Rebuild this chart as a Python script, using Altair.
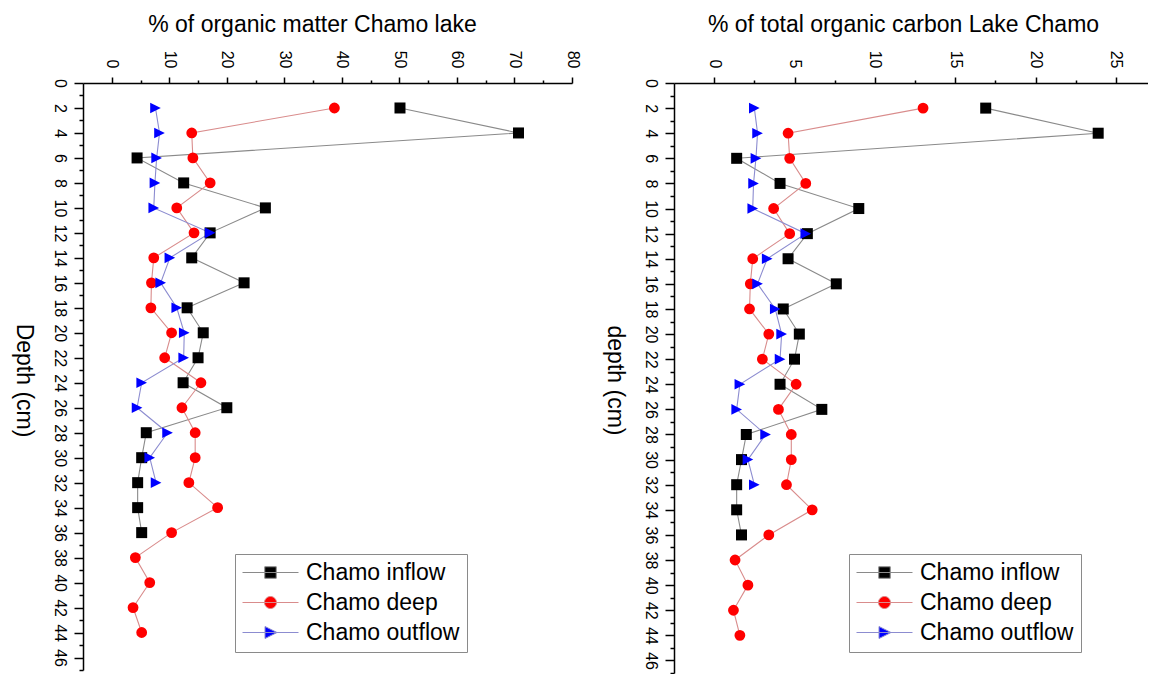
import altair as alt
import pandas as pd

# ---------------- data ----------------
SERIES = ["Chamo inflow", "Chamo deep", "Chamo outflow"]

depth_inflow = [2, 4, 6, 8, 10, 12, 14, 16, 18, 20, 22, 24, 26, 28, 30, 32, 34, 36]
depth_deep = [2, 4, 6, 8, 10, 12, 14, 16, 18, 20, 22, 24, 26, 28, 30, 32, 34, 36, 38, 40, 42, 44]
depth_outflow = [2, 4, 6, 8, 10, 12, 14, 16, 18, 20, 22, 24, 26, 28, 30, 32]

# % organic matter (left panel)
om_inflow = [50.1, 70.7, 4.4, 12.5, 26.7, 17.1, 13.9, 23.0, 13.1, 15.9, 15.0, 12.4, 20.0, 6.0, 5.2, 4.5, 4.5, 5.2]
om_deep = [38.7, 13.9, 14.1, 17.1, 11.3, 14.3, 7.3, 6.9, 6.8, 10.4, 9.2, 15.5, 12.2, 14.5, 14.5, 13.4, 18.4, 10.4, 4.1, 6.6, 3.7, 5.2]
om_outflow = [7.6, 8.3, 7.8, 7.5, 7.3, 17.1, 10.1, 8.5, 11.3, 12.6, 12.5, 5.2, 4.4, 9.7, 6.6, 7.7]

# % total organic carbon (right panel)
toc_inflow = [16.9, 23.9, 1.4, 4.1, 9.0, 5.8, 4.6, 7.6, 4.3, 5.3, 5.0, 4.1, 6.7, 2.0, 1.7, 1.4, 1.4, 1.7]
toc_deep = [13.0, 4.6, 4.7, 5.7, 3.7, 4.7, 2.4, 2.25, 2.2, 3.4, 3.0, 5.1, 4.0, 4.8, 4.8, 4.5, 6.1, 3.4, 1.3, 2.1, 1.2, 1.6]
toc_outflow = [2.5, 2.7, 2.6, 2.45, 2.4, 5.7, 3.3, 2.7, 3.8, 4.2, 4.1, 1.6, 1.4, 3.2, 2.1, 2.5]

# tick values
om_ticks = [0, 5, 10, 15, 20, 25, 30, 35, 40, 45, 50, 55, 60, 65, 70, 75, 80]
toc_ticks = [0, 2.5, 5, 7.5, 10, 12.5, 15, 17.5, 20, 22.5, 25]
depth_ticks = list(range(0, 48))

# ---------------- styling ----------------
FONT = "Liberation Sans"
marker_colors = ["#000000", "#ff0000", "#0000ff"]
line_colors = ["#8a8a8a", "#d98c8c", "#8c8cd0"]
marker_shapes = ["square", "circle", "M-1,-1L1,0L-1,1Z"]
marker_sizes = [121, 113, 169]
legend_shapes = [
    "M-5.6,0H5.6M-1.15,-1.15H1.15V1.15H-1.15Z",
    "M-5.6,0H5.6M-1.2,0A1.2,1.2 0 1,0 1.2,0A1.2,1.2 0 1,0 -1.2,0Z",
    "M-5.6,0H5.6M-1.1,-1.2L1.3,0L-1.1,1.2Z",
]


def long_df(inflow, deep, outflow):
    rows = []
    for name, depths, vals in [
        (SERIES[0], depth_inflow, inflow),
        (SERIES[1], depth_deep, deep),
        (SERIES[2], depth_outflow, outflow),
    ]:
        for d, v in zip(depths, vals):
            rows.append({"series": name, "depth": d, "value": v})
    return pd.DataFrame(rows)


def panel(df, xdomain, xticks, major, width, height, xtitle, ytitle, lx, ly):
    x_axis = alt.Axis(
        orient="top", values=xticks, grid=False,
        labelExpr=f"datum.value % {major} == 0 ? datum.label : ''",
        labelAngle=90, labelAlign="right", labelBaseline="middle",
        labelPadding=9, labelFontSize=16, labelFlush=False, labelOverlap=False,
        labelColor="black", labelFont=FONT,
        tickSize={"condition": {"test": f"datum.value % {major} != 0", "value": 3}, "value": 6},
        tickColor="black", tickWidth=1.5, domainColor="black", domainWidth=1.5,
        title=xtitle, titleFontSize=23, titleFontWeight="normal", titleFont=FONT,
        titleColor="black", titleX=229, titleY=-52, titleAlign="center",
        titleBaseline="alphabetic", titleAngle=0,
    )
    y_axis = alt.Axis(
        orient="left", values=depth_ticks, grid=False,
        labelExpr="datum.value % 2 == 0 ? datum.label : ''",
        labelAngle=90, labelAlign="center", labelBaseline="top",
        labelPadding=7, labelFontSize=16, labelFlush=False, labelOverlap=False,
        labelColor="black", labelFont=FONT,
        tickSize={"condition": {"test": "datum.value % 2 != 0", "value": 4}, "value": 9},
        tickColor="black", tickWidth=1.5, domainColor="black", domainWidth=1.5,
        title=ytitle, titleFontSize=23, titleFontWeight="normal", titleFont=FONT,
        titleColor="black", titleX=-60, titleY=297, titleAlign="center",
        titleBaseline="middle", titleAngle=90,
    )
    base = alt.Chart(df).encode(
        x=alt.X("value:Q", scale=alt.Scale(domain=xdomain, nice=False, zero=False), axis=x_axis),
        y=alt.Y("depth:Q", scale=alt.Scale(domain=[0, 47], nice=False, zero=False, reverse=True), axis=y_axis),
    )
    lines = base.mark_line(strokeWidth=1.1, opacity=1).encode(
        color=alt.Color("series:N", scale=alt.Scale(domain=SERIES, range=line_colors), legend=None),
        order=alt.Order("depth:Q"),
    )
    points = base.mark_point(filled=True, opacity=1, strokeWidth=0).encode(
        shape=alt.Shape("series:N", scale=alt.Scale(domain=SERIES, range=marker_shapes), legend=None),
        fill=alt.Fill("series:N", scale=alt.Scale(domain=SERIES, range=marker_colors), legend=None),
        size=alt.Size("series:N", scale=alt.Scale(domain=SERIES, range=marker_sizes), legend=None),
    )
    leg = alt.Legend(
        title=None, orient="none", legendX=lx, legendY=ly, padding=7,
        symbolSize=100, symbolOffset=17, labelOffset=24, symbolStrokeWidth=1,
        labelFontSize=23, labelFont=FONT, labelColor="black", labelLimit=300,
        rowPadding=6, strokeColor="#8a8a8a", fillColor="white",
    )
    legend_layer = base.mark_point(filled=True, opacity=1).transform_filter("false").encode(
        shape=alt.Shape("series:N", scale=alt.Scale(domain=SERIES, range=legend_shapes), legend=leg),
        fill=alt.Fill("series:N", scale=alt.Scale(domain=SERIES, range=marker_colors), legend=leg),
        stroke=alt.Stroke("series:N", scale=alt.Scale(domain=SERIES, range=line_colors), legend=leg),
    )
    return alt.layer(lines, points, legend_layer).resolve_scale(
        shape="independent", fill="independent", stroke="independent", color="independent", size="independent"
    ).properties(width=width, height=height)


left = panel(long_df(om_inflow, om_deep, om_outflow), [-5, 80], om_ticks, 10, 489, 587,
             "% of organic matter Chamo lake", "Depth (cm)", 152, 471)
right = panel(long_df(toc_inflow, toc_deep, toc_outflow), [-2.5, 27], toc_ticks, 5, 474, 590,
              "% of total organic carbon Lake Chamo", "depth (cm)", 175, 471)

chart = alt.hconcat(left, right, spacing=22).properties(
    padding={"left": 3, "top": 5, "right": 0, "bottom": 0}
).configure(background="white").configure_view(stroke=None)

chart.save("out.html", embed_options={"renderer": "svg", "actions": False})
